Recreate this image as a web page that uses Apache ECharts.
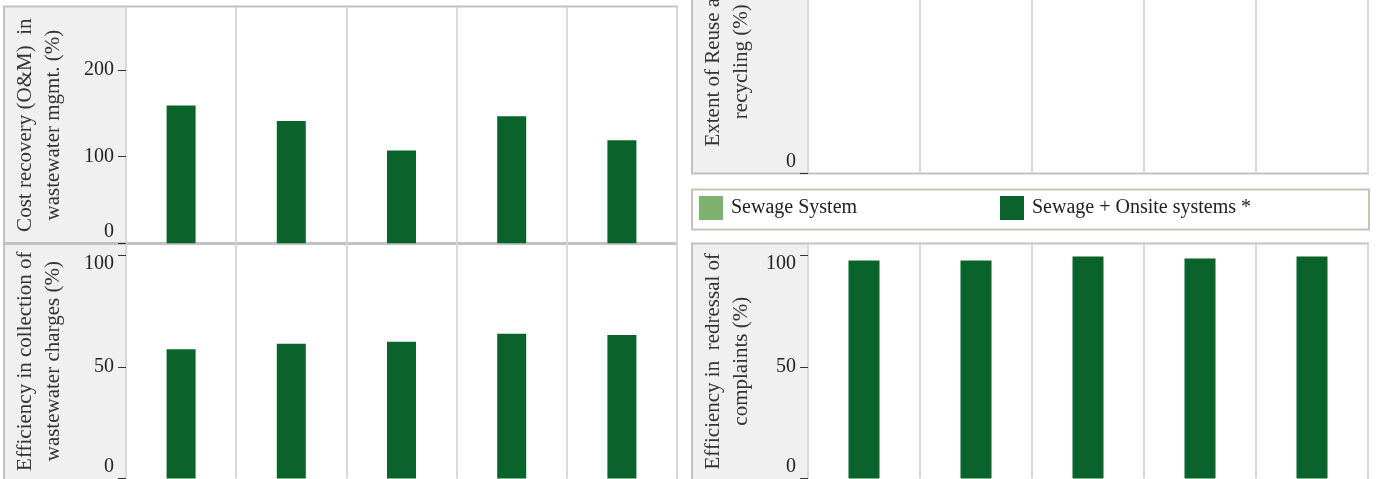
<!DOCTYPE html>
<html><head><meta charset="utf-8">
<script src="https://cdn.jsdelivr.net/npm/echarts@6/dist/echarts.min.js"></script>
<style>html,body{margin:0;padding:0;background:#fff;overflow:hidden}#c{width:1376px;height:479px}</style>
</head><body><div id="c"></div>
<script>
// ---- data ----
const cities = ['City 1', 'City 2', 'City 3', 'City 4', 'City 5'];
const costRecovery = [159, 141, 107, 146.5, 119];
const reuseRecycling = [null, null, null, null, null];
const sewageOnlyReuse = [null, null, null, null, null];
const collectionEfficiency = [58, 60.4, 61.3, 64.9, 64.4];
const redressalEfficiency = [97.8, 97.8, 99.6, 98.7, 99.6];
const costTicks = [0, 100, 200];
const pctTicks = [0, 50, 100];
const reuseTicks = [0];
const seriesNames = ['Sewage System', 'Sewage + Onsite systems *'];
const titles = [
  'Cost recovery (O&M)  in\nwastewater mgmt. (%)',
  'Extent of Reuse and\nrecycling (%)',
  'Efficiency in collection of\nwastewater charges (%)',
  'Efficiency in  redressal of\ncomplaints (%)'
];

// ---- styles ----
const FONT = 'Liberation Serif';
const DARK = '#0b632c';
const LIGHT = '#7db26f';
const GRIDLINE = '#d9d9d9';
const BORDER = '#c2c2c2';
const AXISBG = '#f0f0f0';

const grids = [
  {left: 126, top: 7, width: 551, height: 236.3, outerBoundsMode: 'none'},
  {left: 808, top: -50, width: 560, height: 223.5, outerBoundsMode: 'none'},
  {left: 126, top: 244, width: 551, height: 234.4, outerBoundsMode: 'none'},
  {left: 808, top: 244, width: 560, height: 234.4, outerBoundsMode: 'none'}
];
const yMax = [272.7, 1, 105.2, 105.2];
const yTicks = [costTicks, reuseTicks, pctTicks, pctTicks];
const nameGaps = [59, 53, 59, 53];

function makeFormatter(hiTop) {
  return function (v) {
    if (v === 0) return '{lo|0}';
    if (hiTop && v === 100) return '{hi|100}';
    return '{n|' + v + '}';
  };
}
const labelRich = {
  n: {fontFamily: FONT, fontSize: 20, color: '#222'},
  lo: {fontFamily: FONT, fontSize: 20, color: '#222', padding: [0, 0, 24, 0]},
  hi: {fontFamily: FONT, fontSize: 20, color: '#222', padding: [16, 0, 0, 0]}
};

const xAxes = grids.map((g, i) => ({
  type: 'category', gridIndex: i, data: cities, boundaryGap: true,
  axisLabel: {show: false}, axisTick: {show: false}, axisLine: {show: false},
  splitLine: {show: true, lineStyle: {color: GRIDLINE, width: 2}}
}));
const yAxes = grids.map((g, i) => ({
  type: 'value', gridIndex: i, min: 0, max: yMax[i],
  name: titles[i], nameLocation: 'middle', nameRotate: 90, nameGap: nameGaps[i],
  nameTextStyle: {fontFamily: FONT, fontSize: 21, lineHeight: 28, color: '#333'},
  axisLine: {show: false},
  splitLine: {show: false},
  axisTick: {show: true, length: 8, lineStyle: {color: '#333', width: 1}, customValues: yTicks[i]},
  axisLabel: {show: true, margin: 12, customValues: yTicks[i], formatter: makeFormatter(i >= 2), rich: labelRich}
}));

function panelGraphics(g, topY, bottomY) {
  const x0 = g.left === 126 ? 4 : 692;
  const x1 = g.left + g.width;
  return [
    {type: 'rect', z: -10, shape: {x: x0, y: topY, width: x1 - x0, height: bottomY - topY}, style: {fill: '#fff'}},
    {type: 'rect', z: -9, shape: {x: x0, y: topY, width: g.left - x0, height: bottomY - topY}, style: {fill: AXISBG}},
    {type: 'rect', z: -8, shape: {x: x0, y: topY, width: x1 - x0, height: bottomY - topY}, style: {fill: null, stroke: BORDER, lineWidth: 2}}
  ];
}

const graphics = [].concat(
  panelGraphics(grids[0], 6.5, 243),
  panelGraphics(grids[1], -50, 173.5),
  panelGraphics(grids[2], 244, 495),
  panelGraphics(grids[3], 243.5, 495),
  [{type: 'rect', z: -8, shape: {x: 692, y: 189.5, width: 677, height: 40}, style: {fill: '#fff', stroke: '#c6c3b9', lineWidth: 2}}]
);

const barBase = {type: 'bar', barWidth: 29, itemStyle: {color: DARK}};
const option = {
  animation: false,
  backgroundColor: '#fff',
  graphic: graphics,
  legend: [
    {left: 699, top: 196, padding: 0, itemWidth: 24, itemHeight: 24, icon: 'rect', selectedMode: false,
     data: [seriesNames[0]], textStyle: {fontFamily: FONT, fontSize: 20, color: '#222', padding: [0, 0, 0, 3]}},
    {left: 1000, top: 196, padding: 0, itemWidth: 24, itemHeight: 24, icon: 'rect', selectedMode: false,
     data: [seriesNames[1]], textStyle: {fontFamily: FONT, fontSize: 20, color: '#222', padding: [0, 0, 0, 3]}}
  ],
  grid: grids,
  xAxis: xAxes,
  yAxis: yAxes,
  series: [
    Object.assign({}, barBase, {name: seriesNames[1], xAxisIndex: 0, yAxisIndex: 0, data: costRecovery}),
    {type: 'bar', name: seriesNames[0], xAxisIndex: 1, yAxisIndex: 1, data: sewageOnlyReuse, itemStyle: {color: LIGHT}},
    Object.assign({}, barBase, {name: seriesNames[1], xAxisIndex: 1, yAxisIndex: 1, data: reuseRecycling, barWidth: 31}),
    Object.assign({}, barBase, {name: seriesNames[1], xAxisIndex: 2, yAxisIndex: 2, data: collectionEfficiency}),
    Object.assign({}, barBase, {name: seriesNames[1], xAxisIndex: 3, yAxisIndex: 3, data: redressalEfficiency, barWidth: 31})
  ]
};
const chart = echarts.init(document.getElementById('c'), null, {renderer: 'canvas'});
chart.setOption(option);
</script>
</body></html>
